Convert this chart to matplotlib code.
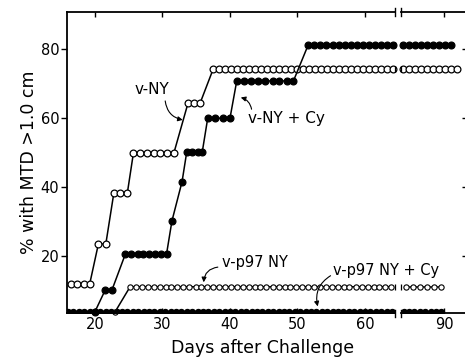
import matplotlib
matplotlib.use("Agg")
import matplotlib.pyplot as plt

# ---- data (days after challenge, % with MTD > 1.0 cm) ----
# v-NY (open circles), plateaus on the left part of the broken axis
vny_days = [
    [16.5, 17.4, 18.3, 19.2],
    [20.5, 21.6],
    [22.8, 23.7, 24.8],
    [25.7, 26.7, 27.7, 28.7, 29.7, 30.7, 31.7],
    [33.8, 34.7, 35.6],
    [37.5, 38.4, 39.3, 40.2, 41.0, 41.9, 42.8, 43.7, 44.6, 45.5, 46.4, 47.3,
     48.2, 49.0, 49.9, 50.8, 51.7, 52.6, 53.5, 54.4, 55.3, 56.2, 57.0, 57.9,
     58.8, 59.7, 60.6, 61.5, 62.4, 63.3, 64.1],
]
vny_levels = [11.8, 23.5, 38.4, 50.0, 64.5, 74.2]
vny_right_days = [83.9, 84.8, 85.7, 86.6, 87.5, 88.3, 89.2, 90.1, 91.0, 91.9]
vny_right_level = 74.2

# v-NY + Cy (filled circles)
vnycy_days = [
    [20.0],
    [21.5, 22.5],
    [24.5, 25.4, 26.3, 27.1, 28.0, 28.9, 29.8, 30.6],
    [31.4],
    [32.9],
    [33.6, 34.4, 35.2, 35.9],
    [36.7, 37.8, 38.9, 40.0],
    [41.0, 42.1, 43.1, 44.2, 45.2, 46.3, 47.3, 48.4, 49.4],
    [51.6, 52.5, 53.4, 54.3, 55.2, 56.1, 57.0, 57.9, 58.8, 59.7, 60.6, 61.5,
     62.4, 63.3, 64.2],
]
vnycy_levels = [3.9, 10.1, 20.6, 30.2, 41.6, 50.3, 60.0, 70.8, 81.3]
vnycy_right_days = [83.9, 84.8, 85.7, 86.6, 87.5, 88.4, 89.3, 90.2, 91.1]
vnycy_right_level = 81.3

# v-p97 NY (small open circles)
p97_days = [
    [23.0],
    [25.2, 26.1, 26.9, 27.8, 28.7, 29.6, 30.5, 31.3, 32.2, 33.1, 34.0, 34.9,
     35.7, 36.6, 37.5, 38.4, 39.3, 40.1, 41.0, 41.9, 42.8, 43.7, 44.5, 45.4,
     46.3, 47.2, 48.1, 48.9, 49.8, 50.7, 51.6, 52.5, 53.3, 54.2, 55.1, 56.0,
     56.9, 57.7, 58.6, 59.5, 60.4, 61.3, 62.1, 63.0, 63.9],
]
p97_levels = [3.9, 11.1]
p97_right_days = [84.4, 85.4, 86.4, 87.5, 88.5, 89.5]
p97_right_level = 11.1

# v-p97 NY + Cy (filled, along the baseline)
p97cy_days = [16.0, 16.8, 17.6, 18.4, 19.2, 20.0, 20.8, 21.6, 22.4, 23.2, 24.0,
              24.8, 25.6, 26.4, 27.2, 28.0, 28.8, 29.6, 30.4, 31.2, 32.0, 32.8,
              33.6, 34.4, 35.2, 36.0, 36.8, 37.6, 38.4, 39.2, 40.0, 40.8, 41.6,
              42.4, 43.2, 44.0, 44.8, 45.6, 46.4, 47.2, 48.0, 48.8, 49.6, 50.4,
              51.2, 52.0, 52.8, 53.6, 54.4, 55.2, 56.0, 56.8, 57.6, 58.4, 59.2,
              60.0, 60.8, 61.6, 62.4, 63.2, 64.0]
p97cy_right_days = [84.0, 84.8, 85.6, 86.4, 87.2, 88.0, 88.8, 89.6]
p97cy_level = 3.9

left_xticks = [20, 30, 40, 50, 60]
right_xticks = [90]
yticks = [20, 40, 60, 80]


def flatten(days, levels):
    xs, ys = [], []
    for d, v in zip(days, levels):
        xs += d
        ys += [v] * len(d)
    return xs, ys


W, H = 465, 358
fig = plt.figure(figsize=(W / 100, H / 100), dpi=100)
bot, top = 1 - 313.3 / H, 1 - 12 / H
ax = fig.add_axes([67 / W, bot, (395 - 67) / W, top - bot])
ax2 = fig.add_axes([401 / W, bot, (465 - 401) / W, top - bot])
for a in (ax, ax2):
    a.patch.set_visible(False)
    a.set_ylim(3.4, 90.8)
    a.set_yticks(yticks)
    for s in a.spines.values():
        s.set_linewidth(1.3)
ax.set_xlim(15.85, 64.45)
ax2.set_xlim(83.63, 93.1)
ax.spines['right'].set_visible(False)
ax2.spines['left'].set_visible(False)
ax2.spines['right'].set_visible(False)

common = dict(color='k', lw=1.1, clip_on=False)
big = dict(marker='o', ms=4.9, mec='k', mew=0.9)
small = dict(marker='o', ms=3.8, mec='k', mew=0.8, mfc='white')

# v-NY
x, y = flatten(vny_days, vny_levels)
ax.plot(x, y, mfc='white', **big, **common)
ax2.plot(vny_right_days, [vny_right_level] * len(vny_right_days),
         mfc='white', **big, **common)

# v-NY + Cy
x, y = flatten(vnycy_days, vnycy_levels)
ax.plot(x, y, mfc='k', **big, **common)
ax2.plot(vnycy_right_days, [vnycy_right_level] * len(vnycy_right_days),
         mfc='k', **big, **common)

# v-p97 NY
x, y = flatten(p97_days, p97_levels)
ax.plot(x, y, **small, **common)
ax2.plot(p97_right_days, [p97_right_level] * len(p97_right_days),
         **small, **common)

# v-p97 NY + Cy, on the baseline (clipped by the axis)
ax.plot(p97cy_days, [p97cy_level] * len(p97cy_days), color='k', lw=1.2,
        marker='o', ms=4.3, mfc='k', mec='k')
ax2.plot(p97cy_right_days, [p97cy_level] * len(p97cy_right_days), color='k',
         lw=1.2, marker='o', ms=4.3, mfc='k', mec='k')

# little bars where the lines stop at the axis break
for lvl in (vny_right_level, vnycy_right_level, p97_right_level):
    ax.plot([64.5], [lvl], marker='|', ms=5, mew=0.9, color='k', clip_on=False)
    ax2.plot([83.7], [lvl], marker='|', ms=5, mew=0.9, color='k', clip_on=False)
for a, xa in ((ax, 1.0), (ax2, 0.0)):
    for ya in (0.0, 1.0):
        a.plot([xa, xa], [ya - 0.012, ya + 0.012], transform=a.transAxes,
               color='k', lw=1.0, clip_on=False)

# ticks
ax.set_xticks(left_xticks)
ax2.set_xticks(right_xticks)
ax.tick_params(axis='y', direction='out', length=4.5, width=1.0, pad=1,
               labelsize=10.5, right=False)
ax.tick_params(axis='x', direction='in', length=3.5, width=1.0, pad=3,
               labelsize=10.5, top=True)
ax2.tick_params(axis='x', direction='in', length=3.5, width=1.0, pad=3,
                labelsize=10.5, top=True)
ax2.tick_params(axis='y', left=False, labelleft=False, right=True,
                direction='in', length=2.5, width=1.0)

# labels
ax.set_ylabel('% with MTD >1.0 cm', fontsize=12.5, labelpad=2)
fig.text(263 / W, 1 - 348 / H, 'Days after Challenge', fontsize=12.5,
         ha='center', va='center')

arrow = dict(arrowstyle='-|>', mutation_scale=7, lw=0.8, color='k',
             shrinkA=0, shrinkB=0)
ax.text(28.4, 68.2, 'v-NY', fontsize=11, ha='center', va='center')
ax.annotate('', xy=(33.0, 59.5), xytext=(30.4, 65.0),
            arrowprops=dict(connectionstyle='arc3,rad=0.35', **arrow))
ax.text(48.4, 60.0, 'v-NY + Cy', fontsize=11, ha='center', va='center')
ax.annotate('', xy=(41.6, 66.0), xytext=(43.2, 62.6),
            arrowprops=dict(connectionstyle='arc3,rad=0.3', **arrow))
ax.text(43.7, 18.0, 'v-p97 NY', fontsize=10.5, ha='center', va='center')
ax.annotate('', xy=(36.1, 12.4), xytext=(38.2, 16.8),
            arrowprops=dict(connectionstyle='arc3,rad=0.4', **arrow))
ax.text(63.1, 15.9, 'v-p97 NY + Cy', fontsize=10.5, ha='center', va='center',
        clip_on=False)
ax.annotate('', xy=(53.0, 5.4), xytext=(54.9, 14.3),
            arrowprops=dict(connectionstyle='arc3,rad=0.35', **arrow))

fig.savefig('out.png', dpi=100)
